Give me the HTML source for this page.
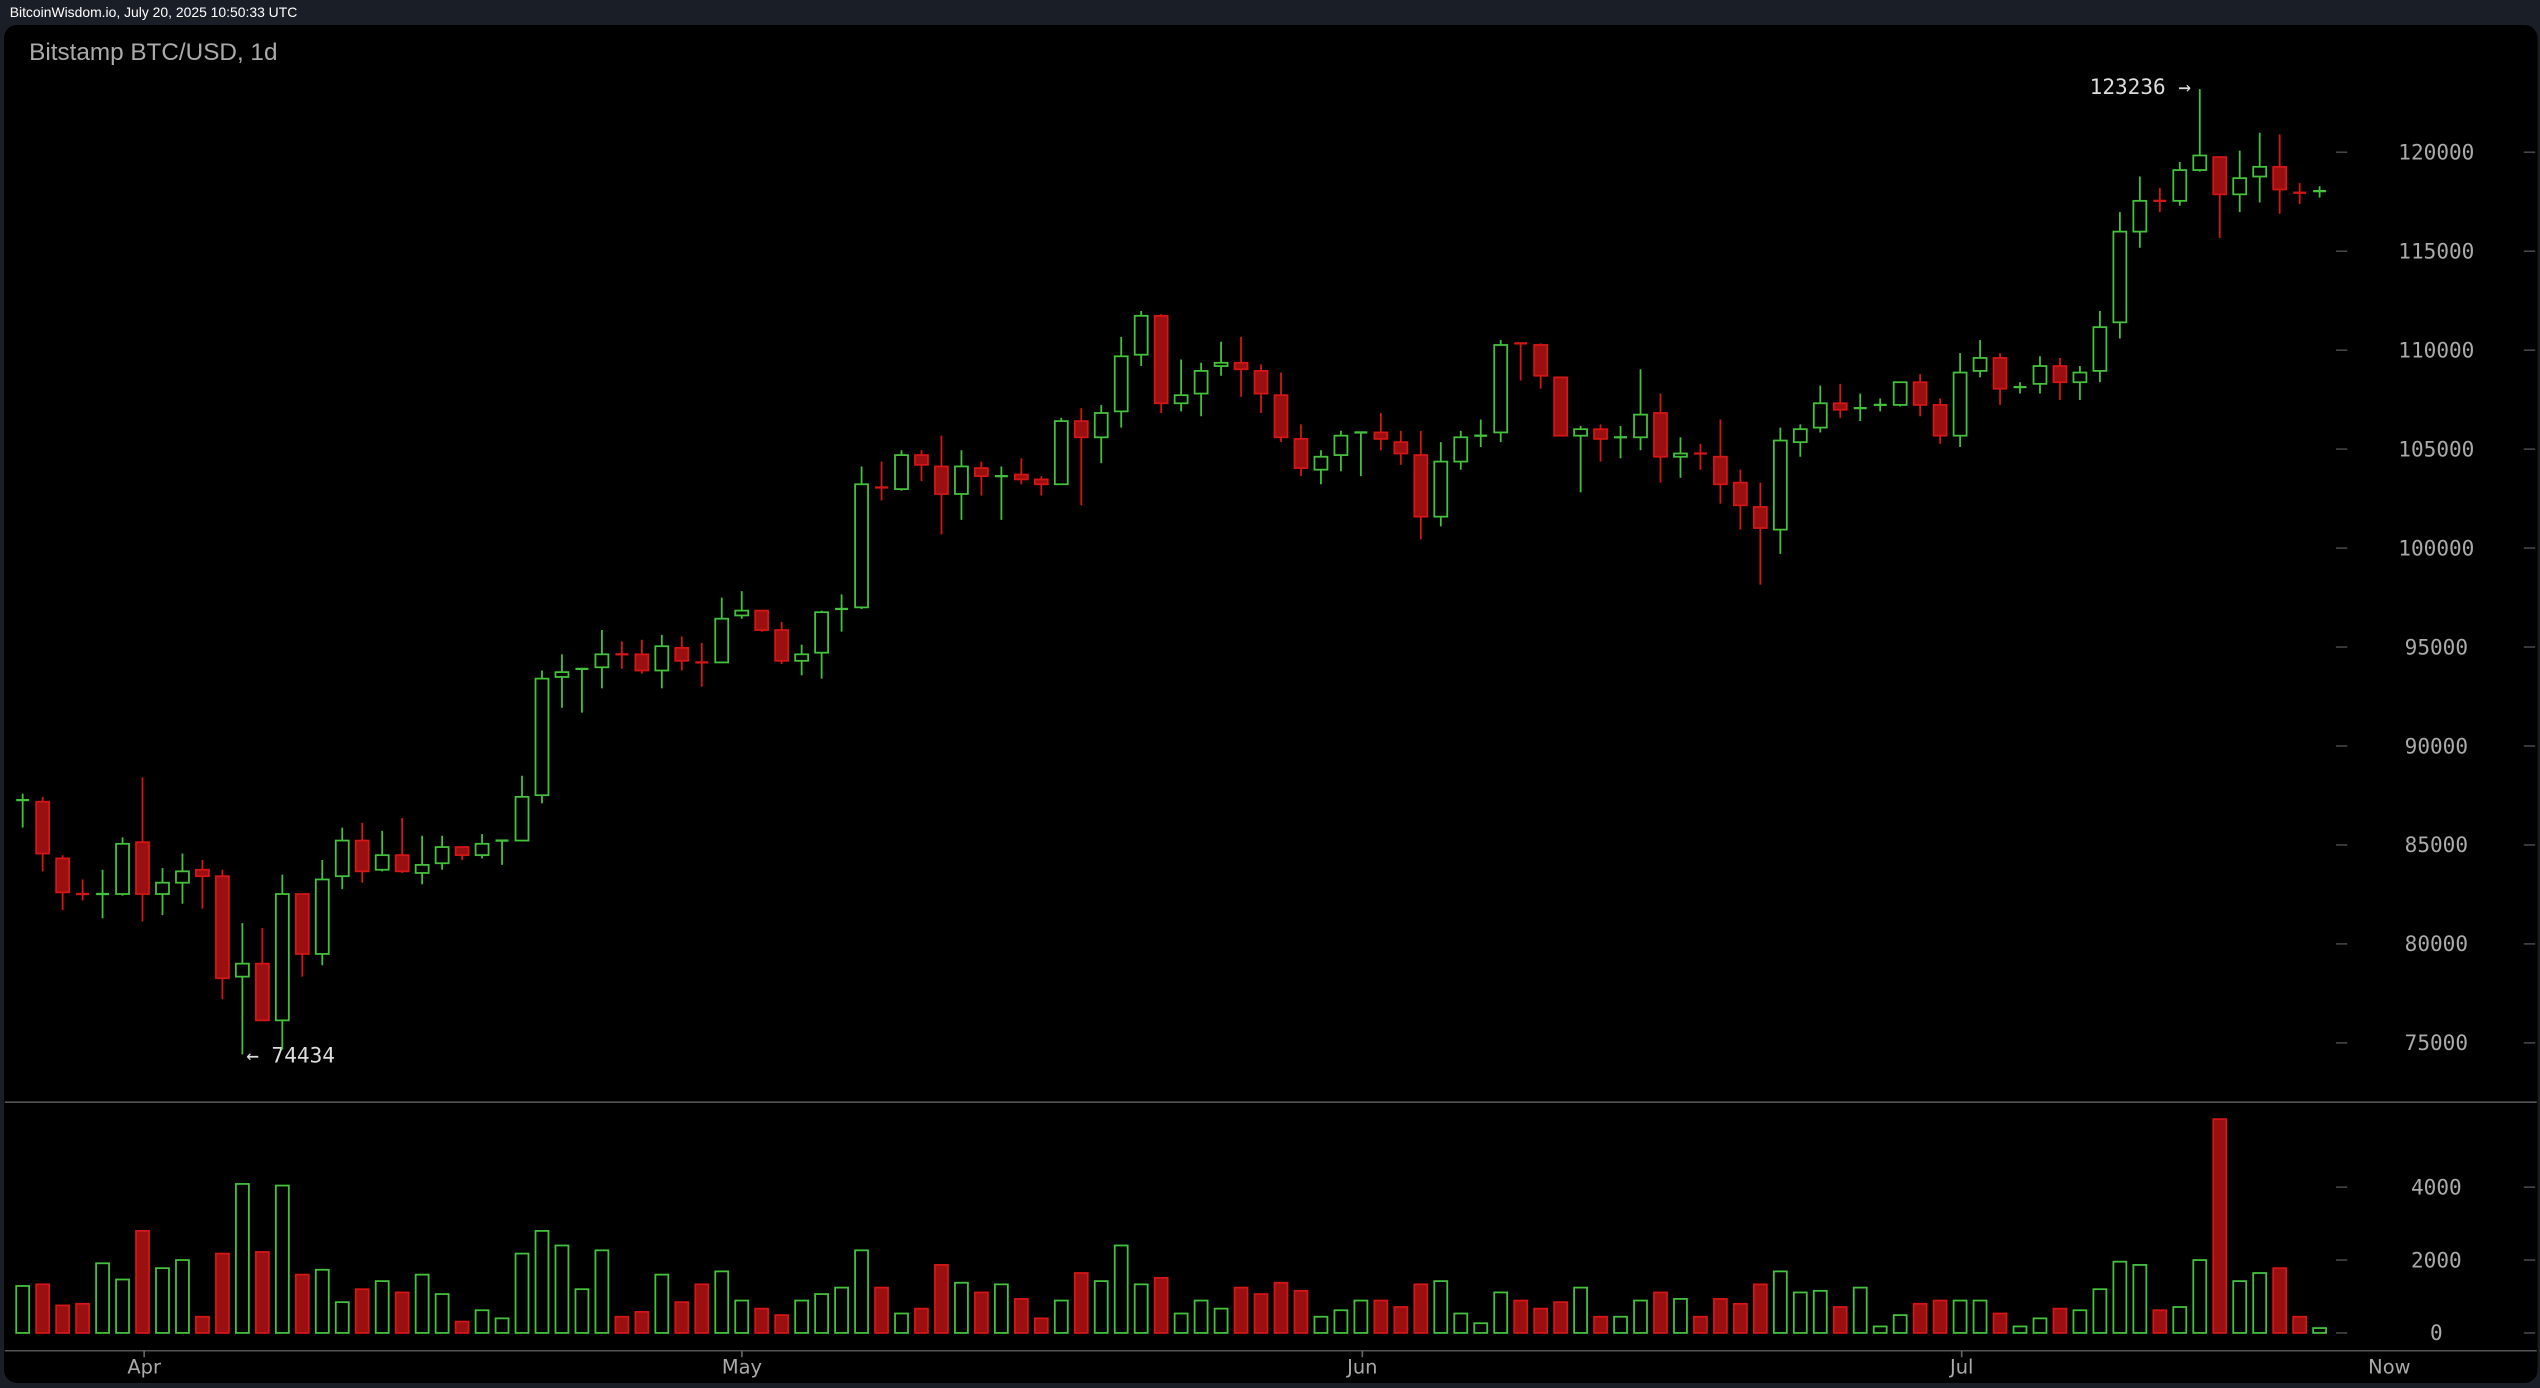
<!DOCTYPE html>
<html><head><meta charset="utf-8"><style>
html,body{margin:0;padding:0;background:#1a1e27;}
svg{display:block;}
</style></head><body>
<svg id="c" xmlns="http://www.w3.org/2000/svg" width="2540" height="1388" viewBox="0 0 1568 857" preserveAspectRatio="none">
<rect x="0" y="0" width="1568" height="857" fill="#1a1e27"/>
<text x="6" y="10.5" font-family="Liberation Sans, sans-serif" font-size="8.6" fill="#ffffff">BitcoinWisdom.io, July 20, 2025 10:50:33 UTC</text>
<rect x="2.5" y="15.4" width="1564" height="838.5" rx="8" ry="8" fill="#000"/>
<text x="18" y="37" font-family="Liberation Sans, sans-serif" font-size="15" fill="#aaaaaa">Bitstamp BTC/USD, 1d</text>
<line x1="3" y1="680.5" x2="1566" y2="680.5" stroke="#555" stroke-width="1"/>
<line x1="3" y1="834" x2="1566" y2="834" stroke="#555" stroke-width="1"/>
<g font-family="DejaVu Sans Mono, Liberation Mono, monospace" font-size="13" fill="#aaaaaa" text-anchor="middle">
<text x="1504" y="98.5">120000</text>
<text x="1504" y="159.6">115000</text>
<text x="1504" y="220.7">110000</text>
<text x="1504" y="281.8">105000</text>
<text x="1504" y="342.9">100000</text>
<text x="1504" y="404">95000</text>
<text x="1504" y="465.1">90000</text>
<text x="1504" y="526.2">85000</text>
<text x="1504" y="587.3">80000</text>
<text x="1504" y="648.4">75000</text>
<text x="1504" y="737.5">4000</text>
<text x="1504" y="782.5">2000</text>
<text x="1504" y="827.5">0</text>
</g>
<g stroke="#444" stroke-width="1" id="ticks"></g>
<g font-family="DejaVu Sans, Liberation Sans, sans-serif" font-size="12" fill="#aaaaaa" text-anchor="middle">
<text x="89" y="848">Apr</text>
<text x="458" y="848">May</text>
<text x="841" y="848">Jun</text>
<text x="1211" y="848">Jul</text>
<text x="1475" y="848">Now</text>
</g>
<g stroke="#666" stroke-width="1">
<line x1="89" y1="834" x2="89" y2="838"/>
<line x1="458" y1="834" x2="458" y2="838"/>
<line x1="841" y1="834" x2="841" y2="838"/>
<line x1="1211" y1="834" x2="1211" y2="838"/>
</g>
<g font-family="DejaVu Sans Mono, Liberation Mono, monospace" font-size="13" fill="#dddddd">
<text x="1290" y="58">123236 →</text>
<text x="152" y="656">← 74434</text>
</g>
<g id="candles"></g>
</svg>
<script>
var D=[[494,494,490,511,794,1],[495,527,492,538,793,0],[530,551,528,562,806,0],[552,552,543,556,805,0],[552,552,537,567,780,1],[552,521,517,553,790,1],[520,552,480,569,760,0],[552,545,536,565,783,1],[545,538,527,558,778,1],[537,541,531,561,813,0],[541,604,537,617,774,0],[603,595,570,651,731,1],[595,630,573,630,773,0],[630,552,540,648,732,1],[552,589,552,603,787,0],[589,543,531,596,784,1],[541,519,511,549,804,1],[519,538,508,545,796,0],[537,528,513,538,791,1],[528,538,505,539,798,0],[539,534,516,546,787,1],[533,523,516,537,799,1],[523,528,523,531,816,0],[528,521,515,530,809,1],[520,519,519,534,814,1],[519,492,479,519,774,1],[491,419,414,496,760,1],[418,415,404,437,769,1],[413,413,413,440,796,1],[412,404,389,425,772,1],[404,404,396,413,813,0],[404,414,395,416,810,0],[414,399,392,425,787,1],[400,408,393,414,804,0],[409,409,397,424,793,0],[409,382,369,409,785,1],[380,377,365,382,803,1],[377,389,377,390,808,0],[389,408,384,410,812,0],[408,404,398,417,803,1],[403,378,377,419,799,1],[376,376,367,390,795,1],[375,299,288,376,772,1],[301,301,285,309,795,0],[302,281,278,303,811,1],[281,287,278,297,808,0],[288,305,269,330,781,0],[305,288,278,321,792,1],[289,294,285,306,798,0],[294,294,288,321,793,1],[293,296,283,299,802,0],[296,299,294,306,814,0],[299,260,258,299,803,1],[260,270,252,312,786,0],[270,255,250,286,791,1],[254,220,208,264,769,1],[219,195,192,226,793,1],[195,249,194,255,789,0],[249,244,222,254,811,1],[243,229,224,257,803,1],[226,224,211,232,808,1],[224,228,208,245,795,0],[229,243,225,255,799,0],[244,270,230,273,792,0],[271,289,262,294,797,0],[290,282,278,299,813,1],[281,269,266,291,809,1],[267,267,267,294,803,1],[267,271,255,278,803,0],[273,280,266,287,807,0],[281,319,266,333,793,0],[319,285,273,325,791,1],[285,270,266,290,811,1],[269,269,259,276,817,1],[267,213,210,273,798,1],[212,212,212,235,803,0],[213,232,212,240,808,0],[233,269,233,269,804,0],[269,265,263,304,795,1],[265,271,262,285,813,0],[270,270,263,283,813,1],[270,256,228,278,803,1],[255,282,243,298,798,0],[282,280,270,295,802,1],[280,280,274,290,813,0],[282,299,259,311,802,0],[298,312,290,327,805,0],[313,326,298,361,793,0],[327,272,264,342,785,1],[273,265,262,282,798,1],[264,249,238,267,797,1],[249,253,237,258,807,0],[252,252,243,260,795,1],[250,250,246,254,819,1],[250,236,236,251,812,1],[236,250,231,257,805,0],[250,269,246,274,803,0],[269,230,218,276,803,1],[229,221,210,233,803,1],[221,240,218,250,811,0],[239,239,236,243,819,1],[237,226,220,243,814,1],[226,236,221,247,808,0],[236,230,226,247,809,1],[229,202,192,236,796,1],[199,143,131,209,779,1],[143,124,109,153,781,1],[124,124,116,131,809,0],[124,105,100,127,807,1],[105,96,55,106,778,1],[97,120,97,147,691,0],[120,110,93,131,791,1],[109,103,82,125,786,1],[103,117,83,132,783,0],[119,119,113,126,813,0],[118,118,115,122,820,1]];
var NS="http://www.w3.org/2000/svg",g=document.getElementById("candles"),h="";
var G="#44c23c",RS="#d41616",RF="#9a0f0f";
for(var i=0;i<D.length;i++){var d=D[i],x=14+i*12.33,up=d[5],s=up?G:RS,f=up?"none":RF;
var t=Math.min(d[0],d[1]),b=Math.max(d[0],d[1]);
h+='<line x1="'+x+'" y1="'+d[2]+'" x2="'+x+'" y2="'+d[3]+'" stroke="'+s+'" stroke-width="1.1"/>';
if(b-t<1.2){h+='<line x1="'+(x-4)+'" y1="'+t+'" x2="'+(x+4)+'" y2="'+t+'" stroke="'+s+'" stroke-width="1.4"/>';}
else{h+='<rect x="'+(x-4)+'" y="'+t+'" width="8" height="'+(b-t)+'" fill="'+(up?"#000":RF)+'" stroke="'+s+'" stroke-width="1.1"/>';}
h+='<rect x="'+(x-4)+'" y="'+d[4]+'" width="8" height="'+Math.max(823-d[4],0.5)+'" fill="'+(up?"#000":RF)+'" stroke="'+s+'" stroke-width="1.1"/>';}
g.innerHTML=h;
var tk="",ys=[94,155.1,216.2,277.3,338.4,399.5,460.6,521.7,582.8,643.9,733,778,823];
for(var j=0;j<ys.length;j++){tk+='<line x1="1442" y1="'+ys[j]+'" x2="1449" y2="'+ys[j]+'"/><line x1="1558" y1="'+ys[j]+'" x2="1565" y2="'+ys[j]+'"/>';}
document.getElementById("ticks").innerHTML=tk;
</script>
</body></html>
